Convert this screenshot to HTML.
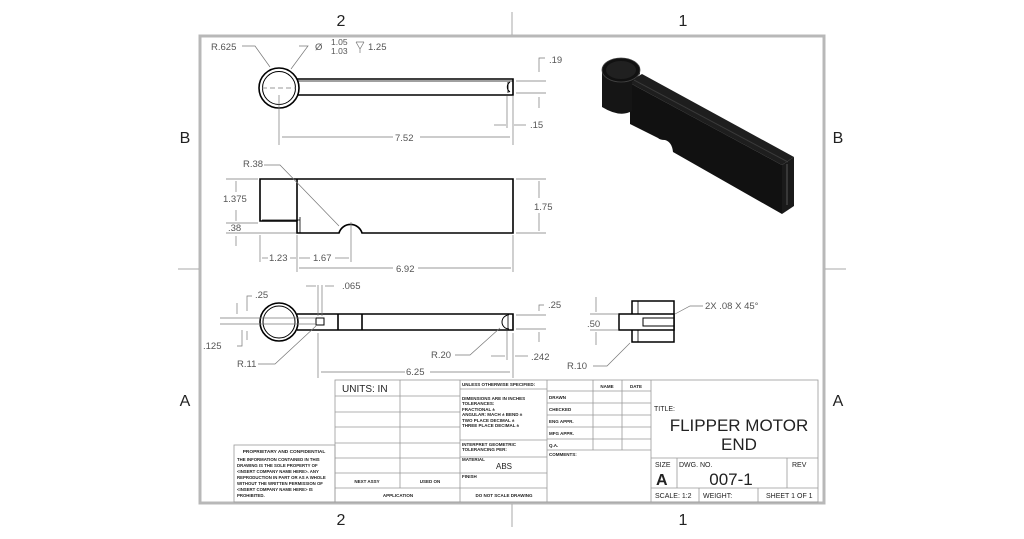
<!DOCTYPE html>
<html><head><style>
html,body{margin:0;padding:0;background:#fff;}
svg{display:block;font-family:"Liberation Sans",sans-serif;}
</style></head><body>
<svg width="1024" height="539" viewBox="0 0 1024 539" xmlns="http://www.w3.org/2000/svg">
<rect width="1024" height="539" fill="#fff"/>
<!-- frame -->
<rect x="200" y="36" width="624" height="467" fill="none" stroke="#b8b8b8" stroke-width="3"/>
<g stroke="#aaa" stroke-width="1">
<line x1="512" y1="12" x2="512" y2="35"/><line x1="512" y1="504" x2="512" y2="527"/>
<line x1="178" y1="269" x2="199" y2="269"/><line x1="825" y1="269" x2="846" y2="269"/>
</g>
<g font-size="16" fill="#222" text-anchor="middle">
<text x="341" y="26">2</text><text x="683" y="26">1</text>
<text x="341" y="525">2</text><text x="683" y="525">1</text>
<text x="185" y="143">B</text><text x="838" y="143">B</text>
<text x="185" y="406">A</text><text x="838" y="406">A</text>
</g>

<!-- TOP VIEW -->
<g fill="none" stroke="#000" stroke-width="1.6">
<circle cx="279" cy="88" r="20"/><circle cx="279" cy="88" r="16.5" stroke-width="1"/>
<path d="M297 79 H513 V95 H297"/><line x1="297" y1="81" x2="513" y2="81" stroke-width="0.8"/>
<path d="M510 82 A6 6 0 0 0 510 92" stroke-width="1"/>
<line x1="508" y1="82" x2="508" y2="93" stroke-width="0.8"/>
</g>
<g stroke="#777" stroke-width="0.7" fill="none">
<line x1="279" y1="95" x2="279" y2="145"/><line x1="513" y1="96" x2="513" y2="145"/>
<line x1="507" y1="96" x2="507" y2="128"/>
<line x1="282" y1="137" x2="393" y2="137"/><line x1="420" y1="137" x2="510" y2="137"/>
<line x1="494" y1="125" x2="506" y2="125"/><line x1="514" y1="125" x2="526" y2="125"/>
<line x1="516" y1="81" x2="546" y2="81"/><line x1="516" y1="93" x2="546" y2="93"/>
<path d="M539 72 V58 H545"/><line x1="539" y1="97" x2="539" y2="108"/>
<path d="M242 46 H255 L270 67"/><path d="M299 46 H308 L291 69"/>
<line x1="262" y1="88" x2="296" y2="88" stroke-dasharray="5 3"/>
<path d="M356 42 L360 49 L364 42 M356 42 H364 M360 49 V53"/>
</g>
<g fill="#555" font-size="9.5">
<text x="211" y="50">R.625</text>
<text x="315" y="50">Ø</text><text x="331" y="45" font-size="8.5">1.05</text><text x="331" y="54" font-size="8.5">1.03</text><text x="368" y="50">1.25</text>
<text x="549" y="63">.19</text>
<text x="530" y="128">.15</text>
<text x="395" y="141">7.52</text>
</g>

<!-- FRONT VIEW -->
<g fill="none" stroke="#000" stroke-width="1.6">
<path d="M260 179 H513 V233 H362 A12 12 0 0 0 339 233 H297 V221 H260 Z"/>
<line x1="297" y1="179" x2="297" y2="221"/>
<line x1="262" y1="220" x2="300" y2="220" stroke-width="0.8"/>
<line x1="300" y1="217" x2="300" y2="233" stroke-width="0.8"/>
</g>
<g stroke="#777" stroke-width="0.7" fill="none">
<line x1="226" y1="179" x2="258" y2="179"/><line x1="226" y1="223" x2="258" y2="223"/><line x1="226" y1="233" x2="296" y2="233"/>
<line x1="236" y1="181" x2="236" y2="192"/><line x1="236" y1="210" x2="236" y2="221"/><line x1="236" y1="236" x2="236" y2="246"/>
<line x1="516" y1="179" x2="546" y2="179"/><line x1="516" y1="233" x2="546" y2="233"/>
<line x1="539" y1="181" x2="539" y2="198"/><line x1="539" y1="213" x2="539" y2="231"/>
<line x1="260" y1="235" x2="260" y2="262"/><line x1="297" y1="235" x2="297" y2="272"/><line x1="351" y1="222" x2="351" y2="262"/><line x1="513" y1="235" x2="513" y2="272"/>
<line x1="262" y1="258" x2="268" y2="258"/><line x1="290" y1="258" x2="296" y2="258"/><line x1="299" y1="258" x2="310" y2="258"/><line x1="335" y1="258" x2="349" y2="258"/>
<line x1="299" y1="268" x2="393" y2="268"/><line x1="418" y1="268" x2="511" y2="268"/>
<path d="M264 165 H280 L339 226"/>
</g>
<g fill="#555" font-size="9.5">
<text x="243" y="167">R.38</text>
<text x="223" y="202">1.375</text><text x="228" y="231">.38</text>
<text x="534" y="210">1.75</text>
<text x="269" y="261">1.23</text><text x="313" y="261">1.67</text>
<text x="396" y="272">6.92</text>
</g>

<!-- BOTTOM VIEW -->
<g fill="none" stroke="#000" stroke-width="1.6">
<circle cx="279" cy="322" r="19"/><circle cx="279" cy="322" r="16" stroke-width="1"/>
<path d="M297 314 H513 V330 H297"/>
<line x1="338" y1="314" x2="338" y2="330"/><line x1="362" y1="314" x2="362" y2="330"/>
<rect x="316" y="318" width="8" height="7" stroke-width="1"/>
<path d="M509 315 A7 7 0 0 0 509 329" stroke-width="1"/>
<line x1="508" y1="316" x2="508" y2="329" stroke-width="0.8"/>
</g>
<g stroke="#777" stroke-width="0.7" fill="none">
<line x1="220" y1="318" x2="316" y2="318"/><line x1="220" y1="324" x2="316" y2="324"/>
<path d="M247 311 V296 H252"/><line x1="247" y1="331" x2="247" y2="340"/>
<path d="M237 346 H242 V330"/><line x1="237" y1="303" x2="237" y2="314"/>
<line x1="318" y1="285" x2="318" y2="316"/><line x1="322" y1="285" x2="322" y2="316"/>
<line x1="306" y1="286" x2="316" y2="286"/><line x1="325" y1="286" x2="334" y2="286"/>
<path d="M258 364 H275 L316 326"/>
<line x1="318" y1="333" x2="318" y2="378"/><line x1="513" y1="333" x2="513" y2="378"/>
<line x1="321" y1="372" x2="405" y2="372"/><line x1="430" y1="372" x2="510" y2="372"/>
<path d="M455 355 H470 L500 328"/>
<line x1="507" y1="331" x2="507" y2="360"/><line x1="491" y1="356" x2="505" y2="356"/><line x1="515" y1="356" x2="528" y2="356"/>
<line x1="516" y1="315" x2="546" y2="315"/><line x1="516" y1="329" x2="546" y2="329"/>
<path d="M539 311 V305 H544"/><line x1="539" y1="332" x2="539" y2="342"/>
</g>
<g fill="#555" font-size="9.5">
<text x="255" y="298">.25</text><text x="203" y="349">.125</text>
<text x="237" y="367">R.11</text><text x="342" y="289">.065</text>
<text x="406" y="375">6.25</text>
<text x="431" y="358">R.20</text><text x="531" y="360">.242</text>
<text x="548" y="308">.25</text>
</g>

<!-- SIDE VIEW -->
<g fill="none" stroke="#000" stroke-width="1.5">
<rect x="632" y="301" width="42" height="41"/>
<rect x="619" y="314" width="55" height="16" fill="#fff"/>
<line x1="638" y1="301" x2="638" y2="314" stroke-width="0.8"/><line x1="638" y1="330" x2="638" y2="342" stroke-width="0.8"/>
<path d="M674 318 H643 V326 H674" stroke-width="1"/>
</g>
<g stroke="#777" stroke-width="0.7" fill="none">
<line x1="590" y1="314" x2="618" y2="314"/><line x1="590" y1="330" x2="618" y2="330"/>
<line x1="596" y1="297" x2="596" y2="312"/><line x1="596" y1="332" x2="596" y2="345"/>
<path d="M703 306 H690 L675 314"/><path d="M593 366 H607 L630 343"/>
</g>
<g fill="#555" font-size="9.5">
<text x="587" y="327">.50</text><text x="705" y="309">2X .08 X 45°</text><text x="567" y="369">R.10</text>
</g>

<!-- ISO -->
<g>
<!-- top face of bar -->
<path d="M628 82 L642 74 L794 157 L782 165 Z" fill="#1e1e1e"/>
<!-- front face -->
<path d="M630 83 L782 165 L782 214 L673 152 Q672 142 665 140 Q660 140 658 138 L630 124 Z" fill="#111"/>
<!-- end face -->
<path d="M782 165 L794 157 L794 206 L782 214 Z" fill="#1a1a1a"/>
<path d="M787 164 V205" stroke="#555" stroke-width="1"/>
<path d="M634 80 L788 162" stroke="#3a3a3a" stroke-width="1"/>
<!-- cylinder -->
<path d="M602 70 V107 Q620 118 632 111 V82 L640 74 Q640 70 638 70 Z" fill="#151515"/>
<ellipse cx="621" cy="70" rx="19" ry="12" fill="#111" stroke="#444" stroke-width="0.8"/>
<ellipse cx="621" cy="70" rx="15" ry="9" fill="#202020"/>
</g>

<!-- PROPRIETARY BOX -->
<rect x="234" y="445" width="101" height="57" fill="none" stroke="#999" stroke-width="0.8"/>
<g font-size="4.3" fill="#222" font-weight="bold">
<text x="284" y="453" text-anchor="middle" font-size="4.8">PROPRIETARY AND CONFIDENTIAL</text>
<text x="237" y="461">THE INFORMATION CONTAINED IN THIS</text>
<text x="237" y="467">DRAWING IS THE SOLE PROPERTY OF</text>
<text x="237" y="473">&lt;INSERT COMPANY NAME HERE&gt;. ANY</text>
<text x="237" y="479">REPRODUCTION IN PART OR AS A WHOLE</text>
<text x="237" y="485">WITHOUT THE WRITTEN PERMISSION OF</text>
<text x="237" y="491">&lt;INSERT COMPANY NAME HERE&gt; IS</text>
<text x="237" y="497">PROHIBITED.</text>
</g>

<!-- TITLE BLOCK -->
<g fill="none" stroke="#999" stroke-width="0.8">
<rect x="335" y="380" width="483" height="122"/>
<line x1="400" y1="380" x2="400" y2="488"/><line x1="460" y1="380" x2="460" y2="502"/>
<line x1="547" y1="380" x2="547" y2="502"/><line x1="651" y1="380" x2="651" y2="502"/>
<line x1="593" y1="380" x2="593" y2="450"/><line x1="622" y1="380" x2="622" y2="450"/>
<line x1="335" y1="396" x2="460" y2="396"/><line x1="335" y1="412" x2="460" y2="412"/>
<line x1="335" y1="427" x2="460" y2="427"/><line x1="335" y1="443" x2="460" y2="443"/>
<line x1="335" y1="458" x2="460" y2="458"/><line x1="335" y1="473" x2="460" y2="473"/>
<line x1="335" y1="488" x2="547" y2="488"/>
<line x1="460" y1="389" x2="547" y2="389"/><line x1="460" y1="440" x2="547" y2="440"/>
<line x1="460" y1="457" x2="547" y2="457"/><line x1="460" y1="473" x2="547" y2="473"/>
<line x1="547" y1="391" x2="651" y2="391"/><line x1="547" y1="403" x2="651" y2="403"/>
<line x1="547" y1="415" x2="651" y2="415"/><line x1="547" y1="427" x2="651" y2="427"/>
<line x1="547" y1="439" x2="651" y2="439"/><line x1="547" y1="450" x2="651" y2="450"/>
<line x1="651" y1="458" x2="818" y2="458"/><line x1="651" y1="488" x2="818" y2="488"/>
<line x1="677" y1="458" x2="677" y2="488"/><line x1="787" y1="458" x2="787" y2="488"/>
<line x1="758" y1="488" x2="758" y2="502"/><line x1="699" y1="488" x2="699" y2="502"/>
</g>
<g fill="#222">
<text x="342" y="392" font-size="10">UNITS: IN</text>
<g font-size="4.5" font-weight="bold">
<text x="462" y="386">UNLESS OTHERWISE SPECIFIED:</text>
<text x="462" y="400">DIMENSIONS ARE IN INCHES</text>
<text x="462" y="405">TOLERANCES:</text>
<text x="462" y="411">FRACTIONAL ±</text>
<text x="462" y="416">ANGULAR: MACH ±   BEND ±</text>
<text x="462" y="422">TWO PLACE DECIMAL   ±</text>
<text x="462" y="427">THREE PLACE DECIMAL ±</text>
<text x="462" y="446">INTERPRET GEOMETRIC</text>
<text x="462" y="451">TOLERANCING PER:</text>
<text x="462" y="461">MATERIAL</text>
<text x="462" y="478">FINISH</text>
<text x="504" y="497" text-anchor="middle">DO NOT SCALE DRAWING</text>
<text x="398" y="497" text-anchor="middle">APPLICATION</text>
<text x="367" y="483" text-anchor="middle">NEXT ASSY</text>
<text x="430" y="483" text-anchor="middle">USED ON</text>
<text x="607" y="388" text-anchor="middle">NAME</text><text x="636" y="388" text-anchor="middle">DATE</text>
<text x="549" y="399">DRAWN</text><text x="549" y="411">CHECKED</text><text x="549" y="423">ENG APPR.</text>
<text x="549" y="435">MFG APPR.</text><text x="549" y="447">Q.A.</text><text x="549" y="456">COMMENTS:</text>
</g>
<text x="504" y="469" font-size="8" text-anchor="middle">ABS</text>
<text x="654" y="411" font-size="7">TITLE:</text>
<text x="739" y="431" font-size="17" text-anchor="middle">FLIPPER MOTOR</text>
<text x="739" y="450" font-size="17" text-anchor="middle">END</text>
<text x="655" y="467" font-size="7">SIZE</text>
<text x="679" y="467" font-size="7">DWG.  NO.</text>
<text x="792" y="467" font-size="7">REV</text>
<text x="656" y="485" font-size="16" font-weight="bold">A</text>
<text x="731" y="485" font-size="17" text-anchor="middle">007-1</text>
<text x="655" y="498" font-size="7">SCALE: 1:2</text>
<text x="703" y="498" font-size="7">WEIGHT:</text>
<text x="766" y="498" font-size="7">SHEET 1 OF 1</text>
</g>
</svg>
</body></html>
